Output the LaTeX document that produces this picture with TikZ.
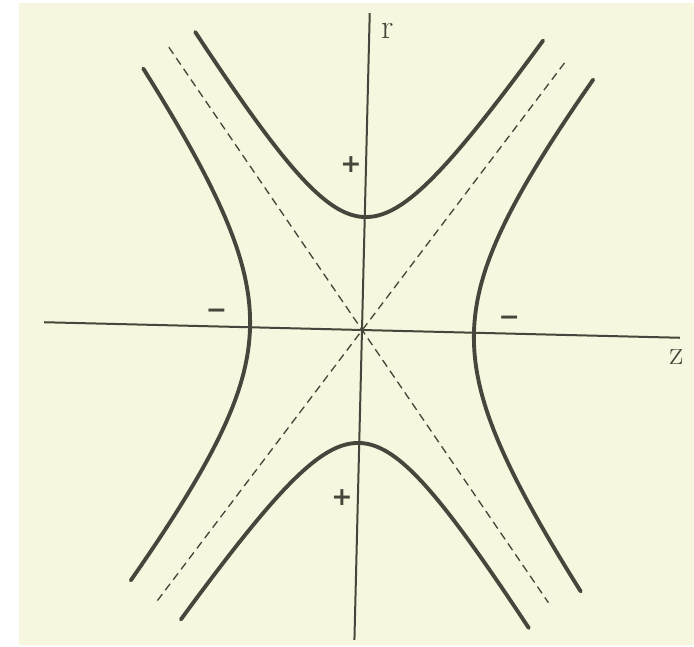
\documentclass[tikz,border=0pt]{standalone}
\usepackage{fontspec}
\usepackage{tikz}
\newfontfamily\signfont{DejaVu Sans}
\definecolor{paper}{RGB}{246,247,222}
\definecolor{ink}{RGB}{70,70,60}
\tikzset{
  axis/.style   = {draw=ink, line width=1.5pt},
  branch/.style = {draw=ink, line width=2.9pt, line cap=round, smooth},
  asym/.style   = {draw=ink, line width=1pt, dash pattern=on 6pt off 3.8pt},
  letter/.style = {text=ink, inner sep=0pt, font=\fontsize{26}{26}\selectfont},
  sign/.style   = {text=ink, inner sep=0pt, font=\signfont\bfseries\fontsize{19}{19}\selectfont},
}

\begin{document}
\begin{tikzpicture}[x=0.75pt,y=0.75pt]
  % page and paper
  \fill[white] (-362,-317) rectangle (332,330);
  \fill[paper] (-343,-315) rectangle (332,327);
  \useasboundingbox (-362,-317) rectangle (332,330);

  \begin{scope}[rotate=-1.4]
    % axes
    \coordinate (zmin) at (-318,0);
    \coordinate (zmax) at (318,0);
    \coordinate (rmin) at (0,-310);
    \coordinate (rmax) at (0,317);
    \draw[axis] (zmin) -- (zmax);
    \draw[axis] (rmin) -- (rmax);

    % asymptotes
    \coordinate (tl) at (-200,278);
    \coordinate (br) at (193,-268);
    \coordinate (tr) at (196,272);
    \coordinate (bl) at (-199,-277);
    \draw[asym] (tl) -- (br);
    \draw[asym] (tr) -- (bl);

    % upper and lower branches
    \draw[branch] plot[domain=-174:174, samples=60] (\x, {113*sqrt(1+2.43*(\x/113)^2)});
    \draw[branch] plot[domain=-174:174, samples=60] (\x, {-113*sqrt(1+2.43*(\x/113)^2)});
    % left and right branches
    \draw[branch] plot[domain=-256:256, samples=60] ({-112*sqrt(1+(\x/112)^2/1.72)}, \x);
    \draw[branch] plot[domain=-256:256, samples=60] ({112*sqrt(1+(\x/112)^2/1.72)}, \x);

    % labels
    \node[letter] (rlab) at (18,300) {r};
    \node[letter] (zlab) at (315,-19) {z};
    \node[sign] (pup) at (-15,165) {+};
    \node[sign] (plo) at (-16,-168) {+};
    \node[sign] (mle) at (-146,13) {−};
    \node[sign] (mri) at (147,13) {−};
  \end{scope}
\end{tikzpicture}
\end{document}
